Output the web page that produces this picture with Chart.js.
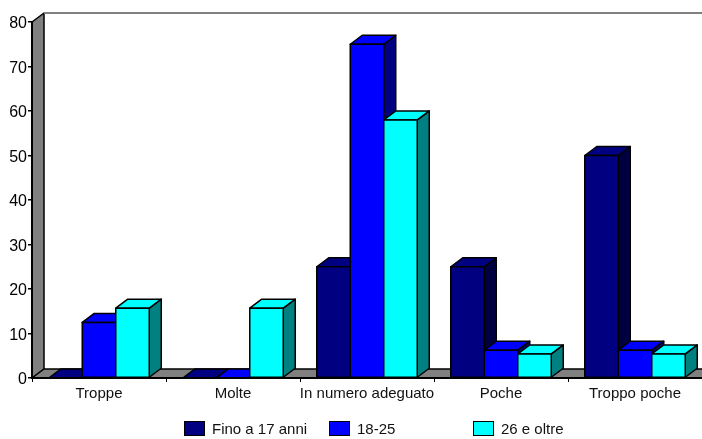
<!DOCTYPE html>
<html>
<head>
<meta charset="utf-8">
<title>Chart</title>
<script src="https://cdn.jsdelivr.net/npm/chart.js@4"></script>
<style>
  html, body { margin: 0; padding: 0; background: #fff; }
  canvas { display: block; }
</style>
</head>
<body>
<canvas id="chart" width="702" height="439"></canvas>
<script>
const categories = ['Troppe', 'Molte', 'In numero adeguato', 'Poche', 'Troppo poche'];
const seriesNames = ['Fino a 17 anni', '18-25', '26 e oltre'];
const fino17 = [0, 0, 25, 25, 50];
const da18a25 = [12.5, 0, 75, 6.25, 6.25];
const oltre26 = [15.7, 15.7, 58, 5.4, 5.4];

const frontColors = ['#000080', '#0000ff', '#00ffff'];
const topColors = ['#000080', '#0000ff', '#00ffff'];
const sideColors = ['#000040', '#000080', '#008080'];
const FONT = '"Liberation Sans", Arial, sans-serif';
const DEPTH_X = 12;
const DEPTH_Y = 9;

function poly(ctx, pts, fill, stroke, lw) {
  ctx.beginPath();
  pts.forEach((p, i) => (i ? ctx.lineTo(p[0], p[1]) : ctx.moveTo(p[0], p[1])));
  ctx.closePath();
  ctx.fillStyle = fill;
  ctx.fill();
  if (stroke) {
    ctx.strokeStyle = stroke;
    ctx.lineWidth = lw;
    ctx.lineJoin = 'round';
    ctx.stroke();
  }
}

// back wall, floor and the top line of the 3d box
const box3d = {
  id: 'box3d',
  beforeDraw(chart) {
    const { ctx, chartArea: a } = chart;
    ctx.save();
    poly(ctx, [[a.left, a.top], [a.left + DEPTH_X, a.top - DEPTH_Y], [a.left + DEPTH_X, a.bottom - DEPTH_Y], [a.left, a.bottom]], '#808080', '#000', 1.5);
    poly(ctx, [[a.left, a.bottom], [a.left + DEPTH_X, a.bottom - DEPTH_Y], [a.right + 5, a.bottom - DEPTH_Y], [a.right + 5, a.bottom]], '#808080', '#000', 1.5);
    ctx.strokeStyle = '#808080';
    ctx.lineWidth = 2;
    ctx.beginPath();
    ctx.moveTo(a.left + DEPTH_X, a.top - DEPTH_Y);
    ctx.lineTo(a.right, a.top - DEPTH_Y);
    ctx.stroke();
    ctx.restore();
  },
  // bars go left to right so each one covers the side of the previous one
  beforeDatasetsDraw(chart) {
    const ctx = chart.ctx;
    ctx.save();
    chart.data.datasets.forEach((ds, i) => {
      chart.getDatasetMeta(i).data.forEach((bar) => {
        const l = bar.x - bar.width / 2;
        const r = bar.x + bar.width / 2;
        const t = bar.y;
        const b = bar.base;
        if (b - t > 0.5) {
          poly(ctx, [[r, t], [r + DEPTH_X, t - DEPTH_Y], [r + DEPTH_X, b - DEPTH_Y], [r, b]], sideColors[i], '#000', 1.5);
        }
        poly(ctx, [[l, t], [l + DEPTH_X, t - DEPTH_Y], [r + DEPTH_X, t - DEPTH_Y], [r, t]], topColors[i], '#000', 1.5);
        if (b - t > 0.5) {
          bar.draw(ctx);
          ctx.strokeStyle = '#000';
          ctx.lineWidth = 1.5;
          ctx.strokeRect(l, t, r - l, b - t);
        }
      });
    });
    ctx.restore();
    return false;
  },
  afterDraw(chart) {
    const ctx = chart.ctx;
    const boxX = [184, 329, 473];
    ctx.save();
    ctx.font = '15px ' + FONT;
    ctx.textBaseline = 'middle';
    seriesNames.forEach((name, i) => {
      ctx.fillStyle = frontColors[i];
      ctx.strokeStyle = '#000';
      ctx.lineWidth = 1;
      ctx.fillRect(boxX[i], 421, 20, 14);
      ctx.strokeRect(boxX[i] + 0.5, 421.5, 20, 14);
      ctx.fillStyle = '#111';
      ctx.fillText(name, boxX[i] + 28, 430);
    });
    ctx.restore();
  }
};

new Chart(document.getElementById('chart'), {
  type: 'bar',
  data: {
    labels: categories,
    datasets: [
      { label: seriesNames[0], data: fino17, backgroundColor: frontColors[0] },
      { label: seriesNames[1], data: da18a25, backgroundColor: frontColors[1] },
      { label: seriesNames[2], data: oltre26, backgroundColor: frontColors[2] }
    ]
  },
  options: {
    responsive: false,
    animation: false,
    layout: { padding: { top: 22, right: 0, left: 0, bottom: 0 } },
    datasets: {
      bar: { barPercentage: 1, categoryPercentage: 0.75, borderWidth: 0 }
    },
    plugins: { legend: { display: false }, tooltip: { enabled: false } },
    scales: {
      x: {
        afterFit: (s) => { s.height = 61; },
        grid: { drawOnChartArea: false, offset: true, tickLength: 4, color: '#000', lineWidth: 1 },
        border: { color: '#000', width: 2, z: 1 },
        ticks: { color: '#111', padding: 3, maxRotation: 0, autoSkip: false, font: { family: FONT, size: 15 } }
      },
      y: {
        min: 0,
        max: 80,
        afterFit: (s) => { s.width = 32; },
        grid: { drawOnChartArea: false, tickLength: 4, color: '#000', lineWidth: 1.5 },
        border: { color: '#000', width: 2, z: 1 },
        ticks: { stepSize: 10, color: '#000', padding: 1, labelOffset: 2, font: { family: FONT, size: 16 } }
      }
    }
  },
  plugins: [box3d]
});
</script>
</body>
</html>
